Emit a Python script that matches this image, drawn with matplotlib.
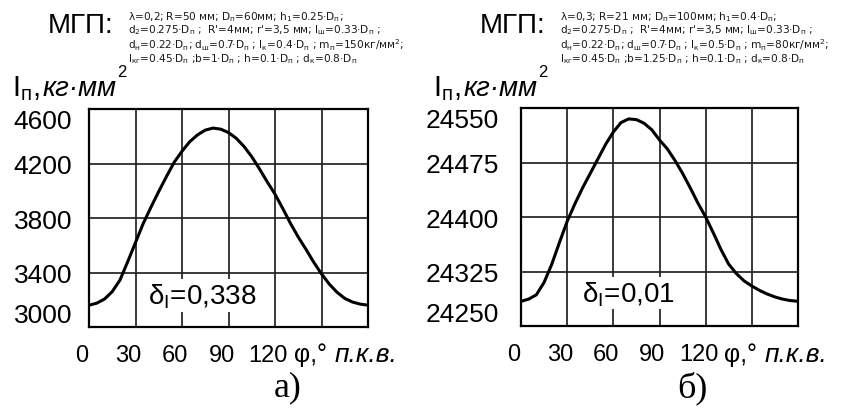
import numpy as np
import matplotlib
matplotlib.use('Agg')
import matplotlib.pyplot as plt
import matplotlib.transforms as mtransforms

plt.rcParams['font.family'] = ['Liberation Sans', 'DejaVu Sans']
plt.rcParams['mathtext.default'] = 'regular'

# crank angle, degrees
phi = [0, 5, 10, 15, 20, 25, 30, 35, 40, 45, 50, 55, 60, 65, 70, 75, 80, 85, 90,
       95, 100, 105, 110, 115, 120, 125, 130, 135, 140, 145, 150, 155, 160, 165,
       170, 175, 180]

# a) moment of inertia, kg*mm^2
inertia_a = [3160, 3175, 3205, 3260, 3345, 3480, 3620, 3760, 3880, 3995, 4105,
             4210, 4290, 4360, 4410, 4445, 4460, 4452, 4427, 4385, 4325, 4250,
             4160, 4065, 3975, 3870, 3760, 3660, 3570, 3475, 3390, 3315, 3255,
             3210, 3183, 3168, 3160]

# b) moment of inertia, kg*mm^2
inertia_b = [24284, 24287, 24293, 24310, 24335, 24365, 24394, 24418, 24440,
             24460, 24480, 24500, 24517, 24530, 24535, 24534, 24529, 24520,
             24506, 24494, 24478, 24460, 24440, 24419, 24400, 24378, 24355,
             24335, 24322, 24312, 24305, 24299, 24294, 24290, 24287, 24285, 24284]

x_ticks = [0, 30, 60, 90, 120, 150, 180]
x_labels = ['0', '30', '60', '90', '120', '', '']
y_ticks_a = [3000, 3400, 3800, 4200, 4600]
y_ticks_b = [24250, 24325, 24400, 24475, 24550]

delta_a = 'δ$_I$=0,338'
delta_b = 'δ$_I$=0,01'

params_a = [
    'λ=0,2; R=50 мм; D$_п$=60мм; h$_1$=0.25·D$_п$;',
    'd$_2$=0.275·D$_п$ ;  R\'=4мм; r\'=3,5 мм; l$_ш$=0.33·D$_п$ ;',
    'd$_н$=0.22·D$_п$; d$_ш$=0.7·D$_п$ ; l$_к$=0.4·D$_п$ ; m$_п$=150кг/мм$^2$;',
    'l$_{кг}$=0.45·D$_п$ ;b=1·D$_п$ ; h=0.1·D$_п$ ; d$_к$=0.8·D$_п$',
]
params_b = [
    'λ=0,3; R=21 мм; D$_п$=100мм; h$_1$=0.4·D$_п$;',
    'd$_2$=0.275·D$_п$ ;  R\'=4мм; r\'=3,5 мм; l$_ш$=0.33·D$_п$ ;',
    'd$_н$=0.22·D$_п$; d$_ш$=0.7·D$_п$ ; l$_к$=0.5·D$_п$ ; m$_п$=80кг/мм$^2$;',
    'l$_{кг}$=0.45·D$_п$ ;b=1.25·D$_п$ ; h=0.1·D$_п$ ; d$_к$=0.8·D$_п$',
]

W, H = 850, 410
fig = plt.figure(figsize=(8.5, 4.1), dpi=100)


def px(x, y):
    return x / W, 1 - y / H


def panel(rect, y, yticks, delta, delta_pos, ypad):
    ax = fig.add_axes(rect)
    ax.plot(phi, y, color='black', lw=2.2, zorder=3)
    ax.set_xlim(0, 180)
    ax.set_ylim(yticks[0], yticks[-1])
    ax.set_xticks(x_ticks)
    ax.set_xticklabels(x_labels)
    ax.set_yticks(yticks)
    ax.set_yticklabels([str(v) for v in yticks])
    ax.tick_params(length=0)
    ax.tick_params(axis='x', pad=12, labelsize=17)
    ax.tick_params(axis='y', pad=ypad, labelsize=19)
    ax.grid(True, color='#222222', lw=1.25)
    for s in ax.spines.values():
        s.set_linewidth(1.6)
    # the labels under the axis sit a little left of their grid lines
    shift = mtransforms.ScaledTranslation(-7 / 100, 0, fig.dpi_scale_trans)
    for lab in ax.get_xticklabels():
        lab.set_transform(lab.get_transform() + shift)
    labs = ax.get_yticklabels()
    labs[0].set_va('bottom')
    labs[-1].set_va('top')
    ax.text(delta_pos[0], delta_pos[1], delta, transform=ax.transAxes,
            fontsize=20, va='center', zorder=2,
            bbox=dict(facecolor='white', edgecolor='none', pad=1.5))
    return ax


panel([89 / W, 1 - 328 / H, 279 / W, 218 / H], inertia_a, y_ticks_a,
      delta_a, (0.21, 0.145), 12)
panel([521 / W, 1 - 327 / H, 277 / W, 218 / H], inertia_b, y_ticks_b,
      delta_b, (0.22, 0.15), 16)

# headers, axis titles and panel letters
for x0, params in [(0, params_a), (432, params_b)]:
    fig.text(*px(x0 + 48, 33), 'МГП:', fontsize=20, va='baseline')
    fig.text(*px(x0 + 128, 10), '\n'.join(params), fontsize=7.6,
             family='DejaVu Sans', linespacing=0.98, va='top', color='#1a1a1a')

for x0 in [12, 433]:
    fig.text(*px(x0, 96), 'I$_п$,', fontsize=21, va='baseline')
    fig.text(*px(x0 + 31, 96), 'кг·мм', fontsize=20, style='italic', va='baseline')
    fig.text(*px(x0 + 105, 77), '2', fontsize=12, va='baseline')

for x0 in [294, 724]:
    fig.text(*px(x0, 362), 'φ,°', fontsize=18, va='baseline')
    fig.text(*px(x0 + 41, 362), 'п.к.в.', fontsize=19, style='italic', va='baseline')

fig.text(*px(288, 388), 'а)', fontsize=26, family='Liberation Serif',
         ha='center', va='center')
fig.text(*px(692, 388), 'б)', fontsize=26, family='Liberation Serif',
         ha='center', va='center')

fig.savefig('out.png', dpi=100)
